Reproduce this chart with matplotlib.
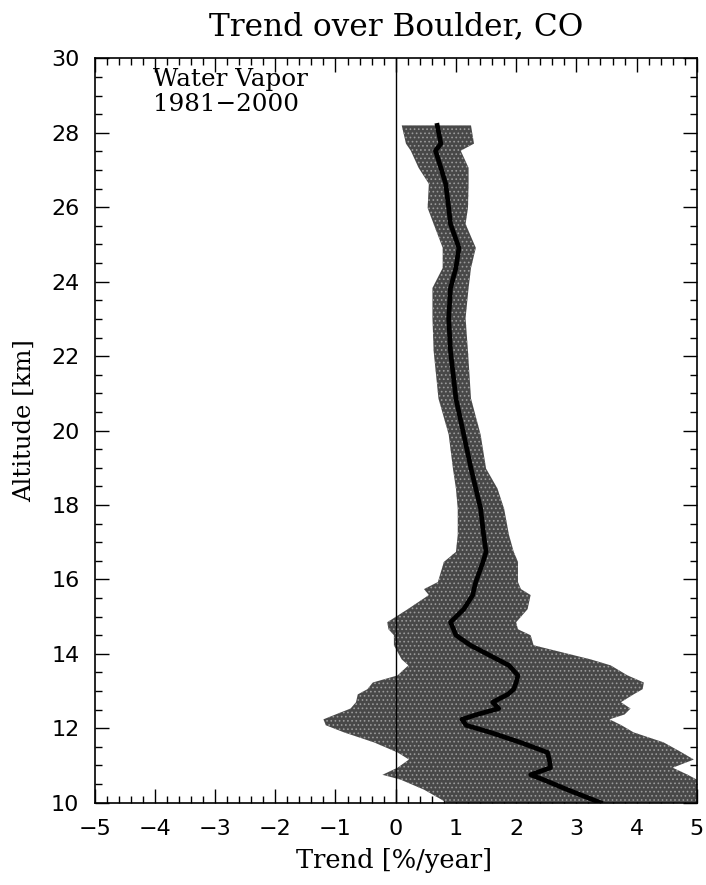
import numpy as np
import matplotlib
matplotlib.use("Agg")
import matplotlib.pyplot as plt
from matplotlib.ticker import MultipleLocator

plt.rcParams["font.family"] = ["DejaVu Serif"]
plt.rcParams["hatch.color"] = "#9a9a9a"
plt.rcParams["hatch.linewidth"] = 0.7

# ─── Data ────────────────────────────────────────────────────────────────────
altitude = [28.2, 27.71, 27.52, 27.06, 26.63, 25.98, 25.55, 24.91, 24.37, 23.83,
            23.02, 22.13, 20.86, 19.89, 18.98, 18.44, 17.90, 17.20, 16.74, 16.47,
            15.93, 15.74, 15.58, 15.20, 14.85, 14.66, 14.50, 14.23, 13.85, 13.69,
            13.42, 13.23, 13.05, 12.91, 12.70, 12.53, 12.37, 12.24, 12.08, 11.89,
            11.62, 11.35, 11.16, 10.94, 10.75, 10.62, 10.35, 10.0]

trend_low = [0.10, 0.17, 0.25, 0.38, 0.55, 0.53, 0.63, 0.78, 0.78, 0.61,
             0.61, 0.63, 0.71, 0.88, 0.95, 1.00, 1.03, 1.03, 1.00, 0.80,
             0.70, 0.47, 0.55, 0.20, -0.14, -0.12, -0.03, -0.03, 0.10, 0.21,
             0.03, -0.38, -0.47, -0.63, -0.66, -0.75, -1.00, -1.20, -1.16, -0.86,
             -0.36, 0.03, 0.22, 0.03, -0.22, 0.08, 0.47, 0.85]

trend_mean = [0.69, 0.75, 0.66, 0.75, 0.83, 0.88, 0.91, 1.05, 1.00, 0.91,
              0.88, 0.91, 1.00, 1.13, 1.25, 1.33, 1.41, 1.46, 1.50, 1.45,
              1.33, 1.30, 1.28, 1.13, 0.91, 0.96, 1.00, 1.24, 1.69, 1.88,
              2.03, 2.00, 1.96, 1.86, 1.61, 1.71, 1.35, 1.10, 1.17, 1.57,
              2.07, 2.52, 2.55, 2.57, 2.24, 2.45, 2.85, 3.40]

trend_high = [1.25, 1.30, 1.08, 1.21, 1.21, 1.20, 1.16, 1.33, 1.25, 1.21,
              1.16, 1.20, 1.25, 1.41, 1.50, 1.69, 1.80, 1.88, 1.96, 2.03,
              2.03, 2.08, 2.24, 2.19, 2.00, 2.03, 2.24, 2.29, 3.24, 3.57,
              3.85, 4.12, 4.10, 3.95, 3.74, 3.90, 3.80, 3.55, 3.75, 3.95,
              4.45, 4.75, 4.95, 4.60, 4.85, 5.00, 5.00, 5.00]

# ─── Figure ──────────────────────────────────────────────────────────────────
fig = plt.figure(figsize=(7.06, 8.85), dpi=100)
ax = fig.add_axes([0.134, 0.093, 0.853, 0.841])

ax.fill_betweenx(altitude, trend_low, trend_high, facecolor="#484848",
                 edgecolor="#9a9a9a", hatch="....", linewidth=0, zorder=2)
ax.plot(trend_mean, altitude, color="black", linewidth=3.4, zorder=3,
        solid_joinstyle="round")
ax.axvline(0, color="black", linewidth=1.0, zorder=4)

ax.set_xlim(-5, 5)
ax.set_ylim(10, 30)
ax.xaxis.set_major_locator(MultipleLocator(1))
ax.xaxis.set_minor_locator(MultipleLocator(0.2))
ax.yaxis.set_major_locator(MultipleLocator(2))
ax.yaxis.set_minor_locator(MultipleLocator(0.5))

ax.tick_params(which="both", direction="in", top=True, right=True, width=1.0)
ax.tick_params(which="major", length=10)
ax.tick_params(which="minor", length=5)
ax.tick_params(axis="x", pad=12)
ax.tick_params(axis="y", pad=11)
for lbl in ax.get_xticklabels() + ax.get_yticklabels():
    lbl.set_family("DejaVu Sans")
    lbl.set_fontsize(16)
for sp in ax.spines.values():
    sp.set_linewidth(1.2)
    sp.set_zorder(5)

# ── Texts ────────────────────────────────────────────────────────────────────
fig.text(0.5605, 0.9605, "Trend over Boulder, CO", fontsize=22.5,
         ha="center", va="baseline")
fig.text(0.558, 0.0192, "Trend [%/year]", fontsize=18.5,
         ha="center", va="baseline")
fig.text(0.034, 0.5243, "Altitude [km]", fontsize=17.5, rotation=90,
         ha="center", va="center")
ax.text(-4.03, 29.25, "Water Vapor", fontsize=17.7, ha="left", va="baseline")
ax.text(-4.03, 28.58, "1981\u22122000", fontsize=17.7, ha="left", va="baseline")

fig.savefig("out.png", dpi=100)
